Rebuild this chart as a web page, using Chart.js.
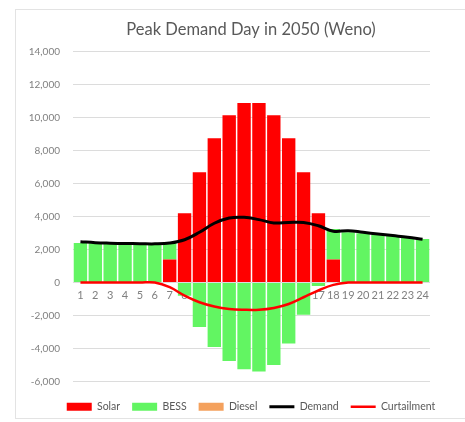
<!DOCTYPE html>
<html>
<head>
<meta charset="utf-8">
<script src="https://cdn.jsdelivr.net/npm/chart.js@4/dist/chart.umd.min.js"></script>
<style>
  html, body { margin: 0; padding: 0; background: #ffffff; overflow: hidden; width: 465px; height: 422px; }
  #frame { position: absolute; left: 15px; top: 9px; width: 470px; height: 410px; border: 1px solid #e3e3e3; box-sizing: border-box; }
  #wrap { position: absolute; left: 15px; top: 0; width: 472px; height: 422px; }
</style>
</head>
<body>
<div id="frame"></div>
<div id="wrap"><canvas id="c" width="472" height="422"></canvas></div>
<script>
const hours = ['1','2','3','4','5','6','7','8','9','10','11','12','13','14','15','16','17','18','19','20','21','22','23','24'];
const solar = [0,0,0,0,0,0,1400,4200,6700,8750,10150,10900,10900,10150,8750,6700,4200,1400,0,0,0,0,0,0];
const bess = [2400,2380,2350,2340,2330,2330,1050,-800,-2700,-3900,-4750,-5250,-5400,-5000,-3700,-1950,-200,1850,3050,3000,2920,2830,2740,2650];
const diesel = [0,0,0,0,0,0,0,0,0,0,0,0,0,0,0,0,0,0,0,0,0,0,0,0];
const demand = [2480,2420,2390,2370,2360,2350,2400,2600,3050,3600,3920,3960,3820,3620,3650,3650,3450,3120,3150,3050,2950,2850,2750,2630];
const curtailment = [0,0,0,0,0,0,-280,-790,-1190,-1450,-1600,-1650,-1650,-1540,-1300,-890,-480,-140,0,0,0,0,0,0];

const FONT = 'Lato, "Open Sans", sans-serif';

new Chart(document.getElementById('c'), {
  data: {
    labels: hours,
    datasets: [
      { type: 'bar', label: 'Solar', data: solar, backgroundColor: '#ff0000', order: 1, stack: 'supply', barPercentage: 1, categoryPercentage: 0.9 },
      { type: 'bar', label: 'BESS', data: bess, backgroundColor: '#62f562', order: 1, stack: 'supply', barPercentage: 1, categoryPercentage: 0.9 },
      { type: 'bar', label: 'Diesel', data: diesel, backgroundColor: '#f4a15d', order: 1, stack: 'supply', barPercentage: 1, categoryPercentage: 0.9 },
      { type: 'line', label: 'Demand', data: demand, borderColor: '#000000', backgroundColor: '#000000', borderWidth: 3, pointRadius: 0, tension: 0.4, order: 0, stack: 'dem', fill: false },
      { type: 'line', label: 'Curtailment', data: curtailment, borderColor: '#ff0000', backgroundColor: '#ff0000', borderWidth: 2.5, pointRadius: 0, tension: 0.4, order: 0, stack: 'curt', fill: false }
    ]
  },
  options: {
    responsive: false,
    animation: false,
    layout: { padding: { left: 13, right: 13, top: 20, bottom: 0 } },
    plugins: {
      title: {
        display: true,
        text: 'Peak Demand Day in 2050 (Weno)',
        color: '#595959',
        font: { family: FONT, size: 16.5, weight: 'normal' },
        padding: { top: 0, bottom: 12 }
      },
      legend: {
        position: 'bottom',
        labels: {
          usePointStyle: true,
          pointStyleWidth: 25,
          boxHeight: 8,
          padding: 12,
          color: '#595959',
          font: { family: FONT, size: 10.5 },
          sort: (a, b) => a.datasetIndex - b.datasetIndex,
          generateLabels: (chart) => {
            const items = Chart.defaults.plugins.legend.labels.generateLabels(chart);
            items.forEach(it => {
              const ds = chart.data.datasets[it.datasetIndex];
              if (ds.type === 'line') {
                it.pointStyle = 'line';
                it.strokeStyle = ds.borderColor;
                it.lineWidth = ds.borderWidth;
              } else {
                it.pointStyle = 'rect';
                it.fillStyle = ds.backgroundColor;
                it.strokeStyle = ds.backgroundColor;
                it.lineWidth = 0;
              }
            });
            return items;
          }
        }
      },
      tooltip: { enabled: false }
    },
    scales: {
      x: {
        stacked: true,
        position: { y: 0 },
        grid: { display: false, drawTicks: false },
        border: { display: false },
        ticks: { color: '#808080', font: { family: FONT, size: 11 }, padding: 6, maxRotation: 0, autoSkip: false }
      },
      xPad: {
        type: 'category',
        position: 'bottom',
        grid: { display: false, drawTicks: false },
        border: { display: false },
        ticks: { display: false },
        afterFit: (s) => { s.height = 8; }
      },
      y: {
        stacked: true,
        position: 'left',
        min: -6000,
        max: 14000,
        grid: { color: '#dcdcdc', drawTicks: false, lineWidth: 1 },
        border: { display: false },
        afterFit: (s) => { s.width = 45; },
        ticks: {
          stepSize: 2000,
          padding: 13,
          color: '#808080',
          font: { family: FONT, size: 10 },
          callback: (v) => v.toLocaleString('en-US')
        }
      },
      yPad: {
        type: 'linear',
        position: 'right',
        grid: { display: false, drawTicks: false },
        border: { display: false },
        ticks: { display: false },
        afterFit: (s) => { s.width = 44; }
      }
    }
  }
});
</script>
</body>
</html>
